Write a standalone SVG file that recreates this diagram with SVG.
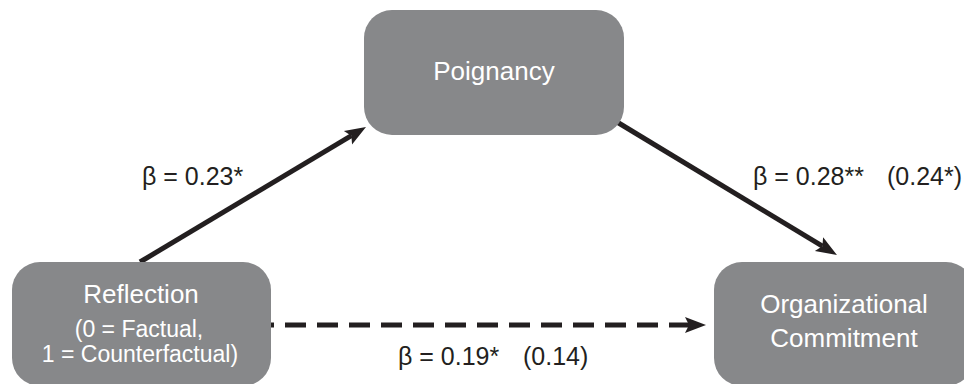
<svg xmlns="http://www.w3.org/2000/svg" width="964" height="384" viewBox="0 0 964 384">
  <style>
    .box { fill: #87888a; }
    .ntext { font-family: "Liberation Sans", Arial, sans-serif; fill: #ffffff; text-anchor: middle; }
    .lbl { font-family: "Liberation Sans", Arial, sans-serif; font-size: 25px; fill: #231f20; }
    .conn { stroke: #231f20; stroke-width: 5; fill: none; }
  </style>
  <defs>
    <marker id="arrow" markerUnits="userSpaceOnUse" markerWidth="22" markerHeight="18" refX="4" refY="8" orient="auto" overflow="visible">
      <path d="M0,0 L21,8 L0,16 L4,8 Z" fill="#231f20"/>
    </marker>
  </defs>
  <rect width="964" height="384" fill="#ffffff"/>

  <g id="connectors">
    <line class="conn" x1="140" y1="262" x2="351.4" y2="135.7" marker-end="url(#arrow)"/>
    <line class="conn" x1="617" y1="122" x2="822.4" y2="246.2" marker-end="url(#arrow)"/>
    <line class="conn" x1="271" y1="325" x2="689" y2="325" stroke-dasharray="21 11" stroke-dashoffset="18" marker-end="url(#arrow)"/>
  </g>

  <g id="node-poignancy">
    <rect class="box" x="364" y="10" width="260" height="125" rx="28" ry="28"/>
    <text class="ntext" x="494" y="80" font-size="26">Poignancy</text>
  </g>

  <g id="node-reflection">
    <rect class="box" x="12" y="262" width="259" height="124" rx="28" ry="28"/>
    <text class="ntext" x="141" y="303" font-size="26">Reflection</text>
    <text class="ntext" x="139" y="337" font-size="23">(0 = Factual,</text>
    <text class="ntext" x="140" y="362" font-size="23">1 = Counterfactual)</text>
  </g>

  <g id="node-commitment">
    <rect class="box" x="714" y="262" width="260" height="124" rx="28" ry="28"/>
    <text class="ntext" x="844" y="313" font-size="26">Organizational</text>
    <text class="ntext" x="844" y="347" font-size="26">Commitment</text>
  </g>

  <g id="labels">
    <text class="lbl" x="142" y="185">β = 0.23*</text>
    <text class="lbl" x="753" y="185">β = 0.28**<tspan x="887">(0.24*)</tspan></text>
    <text class="lbl" x="398" y="365">β = 0.19*<tspan x="523">(0.14)</tspan></text>
  </g>
</svg>
